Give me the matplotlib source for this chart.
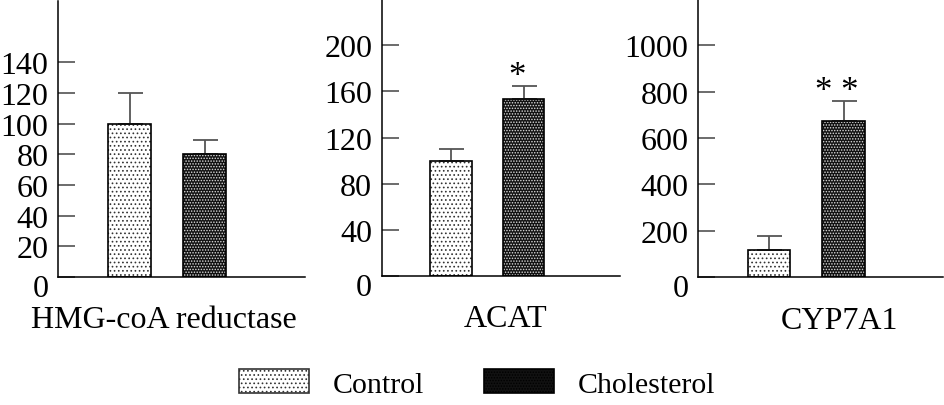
import numpy as np
import matplotlib.pyplot as plt
import matplotlib.transforms as mtransforms
from matplotlib.patches import Patch

plt.rcParams["font.family"] = ["Liberation Serif", "DejaVu Serif"]
plt.rcParams["hatch.linewidth"] = 0.7

GENES = ["HMG-coA reductase", "ACAT", "CYP7A1"]
GROUPS = ["Control", "Cholesterol"]
CONTROL = [100, 100, 115]
CONTROL_ERR = [20, 10, 60]
CHOL = [80, 153, 675]
CHOL_ERR = [9, 12, 85]
STARS = ["", "*", "* *"]
YTICKS = [
    [0, 20, 40, 60, 80, 100, 120, 140],
    [0, 40, 80, 120, 160, 200],
    [0, 200, 400, 600, 800, 1000],
]
YMAX = [180, 240, 1200]

# axes boxes in figure fraction (left, bottom, width, height)
BOXES = [
    (0.0614, 0.3153, 0.261, 0.680),
    (0.4042, 0.3177, 0.252, 0.682),
    (0.7386, 0.3153, 0.259, 0.685),
]
LABEL_X = [0.43, 0.52, 0.58]

XPOS = [0.29, 0.595]
WIDTH = 0.175
FS = 23
DARK = "#111111"


def draw_bar(ax, x, h, err, dark):
    if dark:
        ax.bar(x, h, WIDTH, color=DARK, edgecolor="#dddddd", hatch="......", linewidth=0)
    else:
        ax.bar(x, h, WIDTH, color="white", edgecolor="#333333", hatch="....", linewidth=0)
    ax.bar(x, h, WIDTH, fill=False, edgecolor="black", linewidth=1.2, zorder=3)
    ax.errorbar(x, h, yerr=[[0], [err]], fmt="none", ecolor="#555555",
                elinewidth=1.3, capsize=9, capthick=1.3, zorder=2)


fig = plt.figure(figsize=(9.45, 4.06), dpi=100)

for i, gene in enumerate(GENES):
    ax = fig.add_axes(BOXES[i])
    draw_bar(ax, XPOS[0], CONTROL[i], CONTROL_ERR[i], False)
    draw_bar(ax, XPOS[1], CHOL[i], CHOL_ERR[i], True)
    if STARS[i]:
        ax.annotate(STARS[i], (XPOS[1] - 0.03, CHOL[i] + CHOL_ERR[i]),
                    xytext=(0, -5), textcoords="offset points",
                    ha="center", va="bottom", fontsize=FS + 2)
    ax.set_xlim(0, 1)
    ax.set_ylim(0, YMAX[i])
    ax.set_yticks(YTICKS[i])
    ax.set_xticks([])
    for s in ["top", "right"]:
        ax.spines[s].set_visible(False)
    for s in ["left", "bottom"]:
        ax.spines[s].set_linewidth(1.1)
    ax.tick_params(axis="y", direction="in", length=12.5, width=1.1,
                   color="#444444", labelsize=FS, pad=7)
    # the "0" label sits a little below the axis line
    lab0 = ax.get_yticklabels()[0]
    lab0.set_transform(lab0.get_transform() +
                       mtransforms.ScaledTranslation(0, -6 / 72, fig.dpi_scale_trans))
    ax.text(LABEL_X[i], -0.155, gene, transform=ax.transAxes,
            ha="center", va="center", fontsize=FS)

handles = [
    Patch(facecolor="white", edgecolor="#333333", hatch="....", linewidth=1.2),
    Patch(facecolor=DARK, edgecolor="black", hatch="......", linewidth=1.2),
]
leg = fig.legend(handles, GROUPS, loc="center", bbox_to_anchor=(0.505, 0.053),
                 ncol=2, frameon=False, fontsize=21.5, handlelength=2.35,
                 handleheight=0.85, handletextpad=0.8, columnspacing=2.0)

fig.savefig("out.png", dpi=100)
